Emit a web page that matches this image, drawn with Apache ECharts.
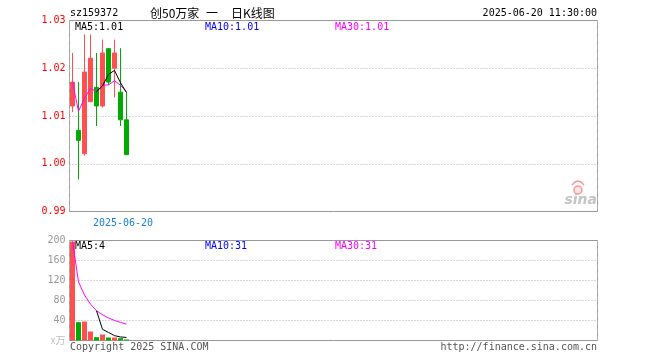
<!DOCTYPE html>
<html>
<head>
<meta charset="utf-8">
<script src="https://cdn.jsdelivr.net/npm/echarts@6/dist/echarts.min.js"></script>
<style>html,body{margin:0;padding:0;background:#fff}#c{width:660px;height:360px}</style>
</head>
<body>
<div id="c"></div>
<script>
// ---- data ----
const dates   = ['2025-06-09','2025-06-10','2025-06-11','2025-06-12','2025-06-13','2025-06-16','2025-06-17','2025-06-18','2025-06-19','2025-06-20'];
const opens   = [1.0121, 1.0070, 1.0021, 1.0130, 1.0160, 1.0121, 1.0241, 1.0200, 1.0150, 1.0092];
const closes  = [1.0171, 1.0049, 1.0192, 1.0221, 1.0121, 1.0232, 1.0171, 1.0232, 1.0092, 1.0019];
const lows    = [1.0108, 0.9967, 1.0017, 1.0129, 1.0079, 1.0118, 1.0165, 1.0139, 1.0079, 1.0019];
const highs   = [1.0232, 1.0171, 1.0271, 1.0271, 1.0232, 1.0260, 1.0241, 1.0260, 1.0242, 1.0150];
const volumes = [198, 36.7, 38, 18, 6.7, 12, 6, 6, 4.7, 2];
const priceTicks  = [0.99, 1.00, 1.01, 1.02, 1.03];
const volumeTicks = [0, 40, 80, 120, 160, 200];
const markedDate = '2025-06-20';
const totalSlots = 88;

const UP = '#ff5050', DOWN = '#00aa00';
const MONO = '"DejaVu Sans Mono", monospace';
const CJK = '"Noto Sans CJK SC", sans-serif';

const cats = dates.concat(Array.from({length: totalSlots - dates.length}, (_, i) => ' ' + i));
function ma(arr, n) {
  return arr.map((v, i) => {
    if (i < n - 1) return null;
    let s = 0; for (let k = i - n + 1; k <= i; k++) s += arr[k];
    return +(s / n).toFixed(5);
  });
}
function cumAvg(arr) { let s = 0; return arr.map((v, i) => { s += v; return +(s / (i + 1)).toFixed(5); }); }
const markIdx = dates.indexOf(markedDate);

const chart = echarts.init(document.getElementById('c'), null, {renderer: 'canvas'});
const dotted = {type: [1, 2], color: '#b0b0b0', width: 1};
const dashed = {type: [5, 3], color: '#b0b0b0', width: 1};

function txt(x, y, text, fill, font, align) {
  return {type: 'text', x: x, y: y, silent: true, z: 100,
    style: {text: text, fill: fill, font: font, align: align || 'left', verticalAlign: 'middle',
            textAlign: align || 'left', textVerticalAlign: 'middle'}};
}

chart.setOption({
  animation: false,
  grid: [
    {left: 69.5, top: 20.5, width: 528, height: 191, show: true, borderColor: '#999', borderWidth: 1, backgroundColor: 'transparent'},
    {left: 69.5, top: 240.5, width: 528, height: 100, show: true, borderColor: '#999', borderWidth: 1, backgroundColor: 'transparent'}
  ],
  xAxis: [
    {type: 'category', gridIndex: 0, data: cats, boundaryGap: true,
     axisLine: {show: false}, axisTick: {show: false},
     axisLabel: {interval: (i) => i === markIdx, formatter: (v) => v, color: '#1a80d6',
                 fontFamily: MONO, fontSize: 10, margin: 7, padding: [0, 7, 0, 0]},
     splitLine: {show: true, interval: (i) => i === markIdx, lineStyle: dashed}},
    {type: 'category', gridIndex: 1, data: cats, boundaryGap: true,
     axisLine: {show: false}, axisTick: {show: false}, axisLabel: {show: false},
     splitLine: {show: true, interval: (i) => i === markIdx, lineStyle: dashed}}
  ],
  yAxis: [
    {type: 'value', gridIndex: 0, min: priceTicks[0], max: priceTicks[priceTicks.length - 1], interval: 0.01,
     axisLine: {show: false}, axisTick: {show: false},
     axisLabel: {color: '#ff0000', fontFamily: MONO, fontSize: 10, margin: 4, formatter: (v) => v.toFixed(2)},
     splitLine: {show: true, showMinLine: false, showMaxLine: false, lineStyle: dotted}},
    {type: 'value', gridIndex: 1, min: volumeTicks[0], max: volumeTicks[volumeTicks.length - 1], interval: 40,
     axisLine: {show: false}, axisTick: {show: false},
     axisLabel: {color: '#999', fontFamily: MONO, fontSize: 10, margin: 4,
                 formatter: (v) => v === 0 ? '{u|x万}' : String(v),
                 rich: {u: {color: '#c0c0c0', fontSize: 10, fontFamily: CJK}}},
     splitLine: {show: true, showMinLine: false, showMaxLine: false, lineStyle: dotted}}
  ],
  series: [
    {type: 'candlestick', xAxisIndex: 0, yAxisIndex: 0, barWidth: 4,
     data: dates.map((d, i) => [opens[i], closes[i], lows[i], highs[i]]),
     itemStyle: {color: UP, color0: DOWN, borderColor: UP, borderColor0: DOWN, borderWidth: 1}},
    {type: 'line', xAxisIndex: 0, yAxisIndex: 0, data: cumAvg(closes), showSymbol: false, symbol: 'none',
     lineStyle: {color: '#ff00ff', width: 1}, z: 3},
    {type: 'line', xAxisIndex: 0, yAxisIndex: 0, data: ma(closes, 5), showSymbol: false, symbol: 'none',
     lineStyle: {color: '#000', width: 1}, z: 4},
    {type: 'bar', xAxisIndex: 1, yAxisIndex: 1, barWidth: 5,
     data: volumes.map((v, i) => ({value: v, itemStyle: {color: closes[i] >= opens[i] ? UP : DOWN}}))},
    {type: 'line', xAxisIndex: 1, yAxisIndex: 1, data: cumAvg(volumes), showSymbol: false, symbol: 'none',
     lineStyle: {color: '#ff00ff', width: 1}, z: 3},
    {type: 'line', xAxisIndex: 1, yAxisIndex: 1, data: ma(volumes, 5), showSymbol: false, symbol: 'none',
     lineStyle: {color: '#000', width: 1}, z: 4}
  ],
  graphic: [
    txt(70, 13, 'sz159372', '#000', '10px ' + MONO),
    txt(150, 13, '创50万家', '#000', '12px ' + CJK),
    txt(206, 13, '一', '#000', '12px ' + CJK),
    txt(231, 13, '日K线图', '#000', '12px ' + CJK),
    txt(597, 13, '2025-06-20 11:30:00', '#000', '10px ' + MONO, 'right'),
    txt(75, 27, 'MA5:1.01', '#000', '10px ' + MONO),
    txt(205, 27, 'MA10:1.01', '#0000ff', '10px ' + MONO),
    txt(335, 27, 'MA30:1.01', '#ff00ff', '10px ' + MONO),
    txt(75, 246, 'MA5:4', '#000', '10px ' + MONO),
    txt(205, 246, 'MA10:31', '#0000ff', '10px ' + MONO),
    txt(335, 246, 'MA30:31', '#ff00ff', '10px ' + MONO),
    txt(70, 347, 'Copyright 2025 SINA.COM', '#555', '10px ' + MONO),
    txt(597, 347, 'http://finance.sina.com.cn', '#555', '10px ' + MONO, 'right'),
    txt(597, 200, 'sina', '#c4c4c4', 'italic bold 14px "DejaVu Sans", sans-serif', 'right'),
    {type: 'circle', shape: {cx: 578, cy: 190, r: 4}, silent: true, z: 100,
     style: {fill: '#fbe3e3', stroke: '#f29a9a', lineWidth: 1.5}},
    {type: 'polyline', shape: {points: [[572, 185], [575, 182], [578, 181], [581, 182], [584, 185]]}, silent: true, z: 100,
     style: {fill: 'none', stroke: '#f29a9a', lineWidth: 1.5}}
  ]
});
</script>
</body>
</html>
